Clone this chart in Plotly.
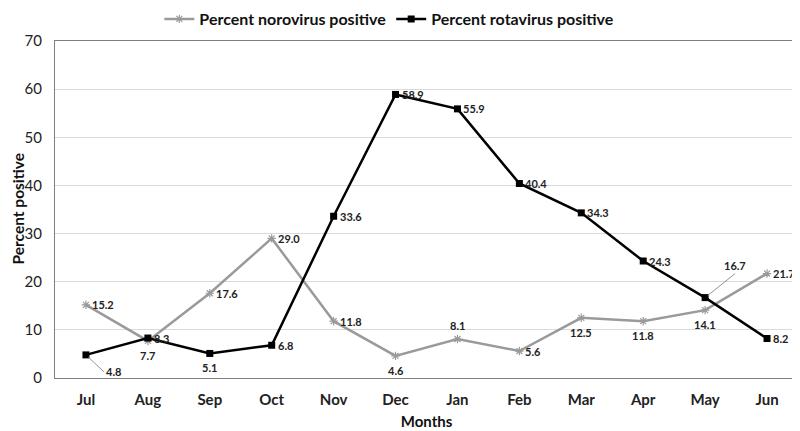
import plotly.graph_objects as go

months = ["Jul", "Aug", "Sep", "Oct", "Nov", "Dec", "Jan", "Feb", "Mar", "Apr", "May", "Jun"]
norovirus = [15.2, 7.7, 17.6, 29.0, 11.8, 4.6, 8.1, 5.6, 12.5, 11.8, 14.1, 21.7]
rotavirus = [4.8, 8.3, 5.1, 6.8, 33.6, 58.9, 55.9, 40.4, 34.3, 24.3, 16.7, 8.2]
y_ticks = [0, 10, 20, 30, 40, 50, 60, 70]

# label placement: r = right, b = below, a = above
noro_pos = ["r", "b", "r", "r", "r", "b", "a", "r", "b", "b", "b", "r"]
rota_pos = ["lead_b", "r", "b", "r", "r", "r", "r", "r", "r", "r", "lead_a", "r"]

FONT = "Lato, Carlito, Calibri, sans-serif"
NORO_C = "#9a9a9a"
ROTA_C = "#000000"

fig = go.Figure()
fig.add_trace(go.Scatter(
    x=months, y=norovirus, mode="lines+markers", name="<b>Percent norovirus positive</b>",
    line=dict(color=NORO_C, width=2.5),
    marker=dict(symbol="asterisk-open", size=7, color=NORO_C, line=dict(color=NORO_C, width=1.2)),
))
fig.add_trace(go.Scatter(
    x=months, y=rotavirus, mode="lines+markers", name="<b>Percent rotavirus positive</b>",
    line=dict(color=ROTA_C, width=2.5),
    marker=dict(symbol="square", size=7, color=ROTA_C),
))

lab_font = dict(family=FONT, size=11, color="#222222")
annos = []
def add_label(x, y, pos):
    txt = f"<b>{y:.1f}</b>"
    if pos == "r":
        annos.append(dict(x=x, y=y, text=txt, showarrow=False, xanchor="left", yanchor="middle", xshift=4, font=lab_font))
    elif pos == "b":
        annos.append(dict(x=x, y=y, text=txt, showarrow=False, xanchor="center", yanchor="top", yshift=-6, font=lab_font))
    elif pos == "a":
        annos.append(dict(x=x, y=y, text=txt, showarrow=False, xanchor="center", yanchor="bottom", yshift=5, font=lab_font))
    elif pos == "lead_b":
        annos.append(dict(x=x, y=y, text=txt, showarrow=True, ax=18, ay=17,
                          arrowhead=0, arrowwidth=0.8, arrowcolor="#777777", xanchor="left", yanchor="middle",
                          standoff=3, font=lab_font))
    elif pos == "lead_a":
        annos.append(dict(x=x, y=y, text=txt, showarrow=True, ax=30, ay=-24,
                          arrowhead=0, arrowwidth=0.8, arrowcolor="#777777", xanchor="center", yanchor="bottom",
                          standoff=3, font=lab_font))

for m, v, p in zip(months, norovirus, noro_pos):
    add_label(m, v, p)
for m, v, p in zip(months, rotavirus, rota_pos):
    add_label(m, v, p)

# y-axis title as a rotated paper annotation
annos.append(dict(xref="paper", yref="paper", x=0, y=0.5, xshift=-38, text="<b>Percent positive</b>",
                  textangle=-90, showarrow=False, xanchor="center", yanchor="middle",
                  font=dict(family=FONT, size=15.5, color="#111111")))

# the page body adds an 8px offset, so margins compensate for it
fig.update_layout(
    width=800, height=431,
    margin=dict(l=47, r=10, t=33, b=61, autoexpand=False),
    paper_bgcolor="white", plot_bgcolor="white",
    font=dict(family=FONT, color="#222222"),
    annotations=annos,
    showlegend=True,
    legend=dict(orientation="h", x=0.45, xanchor="center", y=1 + 39 / 337, yanchor="top",
                font=dict(family=FONT, size=16, color="#111111"), bgcolor="rgba(0,0,0,0)",
                itemwidth=30, traceorder="normal"),
    xaxis=dict(
        type="category", categoryorder="array", categoryarray=months,
        showgrid=False, showline=True, linecolor="#7f7f7f", linewidth=1.2, mirror=True,
        ticks="", tickfont=dict(family=FONT, size=15, color="#222222"),
        tickprefix="<b>", ticksuffix="</b>", automargin=False, ticklabelstandoff=8,
        title=dict(text="<b>Months</b>", font=dict(family=FONT, size=15, color="#111111"), standoff=9),
        range=[-0.5, 11.5],
    ),
    yaxis=dict(
        range=[0, 70], tickvals=y_ticks, showgrid=True, gridcolor="#d9d9d9", gridwidth=1.2,
        showline=True, linecolor="#7f7f7f", linewidth=1.2, mirror=True, zeroline=False,
        ticks="", tickfont=dict(family=FONT, size=15, color="#222222"),
        tickprefix="<b>", ticksuffix="</b>", automargin=False, ticklabelstandoff=9,
    ),
)

fig.write_html("out.html")
